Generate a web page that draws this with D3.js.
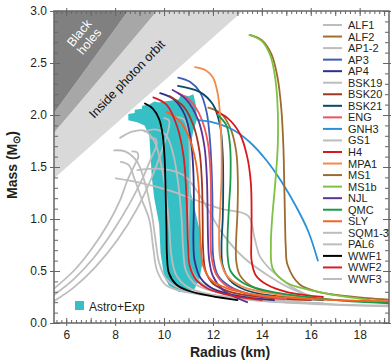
<!DOCTYPE html>
<html>
<head>
<meta charset="utf-8">
<script src="https://cdn.jsdelivr.net/npm/d3@7"></script>
<style>
  body { margin: 0; background: #fff; }
  svg text { font-family: "Liberation Sans", Arial, sans-serif; }
</style>
</head>
<body>
<svg id="chart" width="391" height="361"></svg>
<script>
// mass-radius curves, each point is [radius km, mass Msun], from max mass down
const ALF1 = [[10.5,1.98],[10.8,1.96],[10.98,1.85],[11.05,1.6],[11.05,1.3],[11.0,1.0],[10.98,0.72],[11.1,0.52],[11.6,0.37],[12.8,0.28],[14.5,0.22],[16.5,0.19]];
const ALF2 = [[11.81,2.07],[12.3,2.02],[12.7,1.88],[12.95,1.65],[13.02,1.35],[13.0,1.05],[12.95,0.8],[12.95,0.6],[13.1,0.46],[13.6,0.35],[14.6,0.28],[16.2,0.24]];
const AP1 = [[7.96,1.66],[8.4,1.65],[8.9,1.55],[9.25,1.32],[9.5,1.05],[9.65,0.8],[9.8,0.58],[10.1,0.42],[10.8,0.32],[12.3,0.26],[14.5,0.21]];
const AP2 = [[8.23,1.55],[8.55,1.52],[8.8,1.38],[9.1,1.18],[9.4,0.99],[9.56,0.72],[9.72,0.5],[10.1,0.36],[11.6,0.27],[13.5,0.23]];
const AP3 = [[10.58,2.36],[11.06,2.32],[11.47,2.22],[11.74,2.03],[11.88,1.75],[11.95,1.45],[11.98,1.15],[11.98,0.85],[12.02,0.62],[12.2,0.46],[12.7,0.35],[13.6,0.27],[15,0.23]];
const AP4 = [[9.84,2.21],[10.4,2.15],[10.85,2.0],[11.1,1.75],[11.2,1.45],[11.22,1.1],[11.2,0.8],[11.25,0.6],[11.5,0.43],[12.0,0.33],[13.0,0.26],[14.5,0.22]];
const BSK19 = [[8.2,1.78],[8.7,1.84],[9.2,1.85],[9.6,1.75],[9.9,1.5],[10.1,1.2],[10.22,0.9],[10.3,0.65],[10.5,0.46],[11.0,0.34],[12.0,0.27],[14,0.21],[16.5,0.18],[19.2,0.16]];
const BSK20 = [[10.24,2.18],[10.8,2.08],[11.2,1.9],[11.45,1.65],[11.55,1.35],[11.58,1.0],[11.6,0.7],[11.7,0.5],[12.0,0.38],[12.7,0.3],[14,0.25],[16,0.22]];
const BSK21 = [[10.57,2.28],[11.47,2.22],[12.0,2.1],[12.29,1.9],[12.4,1.62],[12.42,1.3],[12.4,1.0],[12.35,0.75],[12.4,0.55],[12.7,0.41],[13.3,0.32],[14.5,0.26],[16.5,0.22]];
const ENG = [[10.58,2.21],[11.1,2.13],[11.5,1.98],[11.78,1.75],[11.9,1.45],[11.92,1.15],[11.9,0.85],[11.95,0.62],[12.15,0.46],[12.6,0.35],[13.5,0.28],[15,0.23]];
const GNH3 = [[11.4,1.95],[12.0,1.93],[12.8,1.86],[13.5,1.74],[14.2,1.56],[14.8,1.36],[15.4,1.12],[15.9,0.88],[16.29,0.6]];
const GS1 = [[8.03,1.39],[9.0,1.35],[10.27,1.27],[11.2,1.19],[12.3,1.1],[13.44,1.03],[13.7,0.82],[13.92,0.64],[14.33,0.52],[15.14,0.36],[15.82,0.27]];
const H4 = [[12.15,2.03],[12.6,1.97],[13.1,1.82],[13.4,1.6],[13.55,1.35],[13.58,1.05],[13.57,0.8],[13.58,0.6],[13.75,0.46],[14.2,0.37],[15.0,0.3],[16.5,0.25]];
const MPA1 = [[11.27,2.46],[11.7,2.43],[12.0,2.36],[12.2,2.2],[12.29,2.0],[12.35,1.7],[12.35,1.4],[12.3,1.1],[12.25,0.85],[12.3,0.62],[12.55,0.46],[13.2,0.35],[14.5,0.28],[16.5,0.23],[19.2,0.205]];
const MS1 = [[13.5,2.77],[14.0,2.72],[14.4,2.58],[14.65,2.35],[14.8,2.05],[14.88,1.7],[14.92,1.3],[14.95,0.95],[14.98,0.72],[15.05,0.56],[15.55,0.37],[16.3,0.3],[17.2,0.265],[18.3,0.24],[19.2,0.225]];
const MS1b = [[13.5,2.77],[14.0,2.71],[14.35,2.57],[14.55,2.35],[14.65,2.05],[14.65,1.7],[14.55,1.35],[14.42,1.0],[14.37,0.75],[14.45,0.52],[15.0,0.39],[16.5,0.29],[18,0.235],[19.2,0.2]];
const NJL = [[10.35,2.24],[10.9,2.15],[11.4,1.95],[11.65,1.7],[11.75,1.4],[11.78,1.1],[11.8,0.8],[11.85,0.6],[12.0,0.45],[12.4,0.32],[13.0,0.24],[13.4,0.2]];
const QMC = [[12.2,2.0],[12.55,1.9],[12.7,1.7],[12.72,1.4],[12.65,1.1],[12.6,0.85],[12.6,0.65],[12.72,0.5],[13.2,0.39],[14,0.32],[15.5,0.26],[17.5,0.21],[19.2,0.19]];
const SLY = [[10.11,2.03],[10.6,1.95],[11.0,1.8],[11.3,1.55],[11.42,1.3],[11.45,1.0],[11.5,0.75],[11.6,0.55],[11.9,0.42],[12.5,0.34],[13.5,0.28],[15,0.245],[17,0.22],[19.2,0.21]];
const SQM1 = [[5.5,0.33],[6.3,0.5],[7.0,0.7],[7.7,0.95],[8.2,1.18],[8.5,1.37],[8.8,1.52],[8.95,1.6],[8.9,1.64],[8.7,1.65]];
const SQM2 = [[5.5,0.27],[6.3,0.42],[7.1,0.62],[7.9,0.88],[8.6,1.15],[9.1,1.38],[9.5,1.6],[9.7,1.72],[9.65,1.77],[9.45,1.78]];
const SQM3 = [[5.5,0.21],[6.3,0.34],[7.2,0.54],[8.1,0.8],[8.9,1.1],[9.5,1.4],[9.9,1.65],[10.2,1.88],[10.2,1.95],[10.0,1.97]];
const PAL6 = [[8.91,1.47],[10.0,1.48],[10.8,1.42],[11.4,1.25],[11.9,1.05],[12.42,0.85],[13.3,0.62],[14.3,0.45],[15.2,0.33],[16.0,0.26]];
const WWF1 = [[9.22,2.11],[9.55,2.06],[9.8,1.96],[9.95,1.8],[10.03,1.55],[10.07,1.2],[10.1,0.9],[10.12,0.65],[10.2,0.48],[10.5,0.37],[11.0,0.31],[11.9,0.26],[13.0,0.22]];
const WWF2 = [[9.56,2.17],[10.1,2.1],[10.55,1.88],[10.8,1.6],[10.9,1.3],[10.95,1.0],[10.98,0.75],[11.05,0.55],[11.3,0.42],[11.8,0.33],[12.8,0.26],[14.0,0.22]];
const WWF3 = [[9.2,1.84],[9.7,1.86],[10.1,1.8],[10.4,1.6],[10.6,1.3],[10.72,1.0],[10.78,0.72],[10.9,0.5],[11.3,0.37],[12.5,0.28],[14.5,0.22],[17,0.18],[19.2,0.17]];

const eosNames = ["ALF1","ALF2","AP1-2","AP3","AP4","BSK19","BSK20","BSK21","ENG","GNH3","GS1","H4","MPA1","MS1","MS1b","NJL","QMC","SLY","SQM1-3","PAL6","WWF1","WWF2","WWF3"];
const eosCurves = [[ALF1],[ALF2],[AP1,AP2],[AP3],[AP4],[BSK19],[BSK20],[BSK21],[ENG],[GNH3],[GS1],[H4],[MPA1],[MS1],[MS1b],[NJL],[QMC],[SLY],[SQM1,SQM2,SQM3],[PAL6],[WWF1],[WWF2],[WWF3]];

// combined astro + experiment constraint band
const astroExp = [[8.54,2.01],[8.8,2.02],[8.8,2.05],[9.1,2.06],[9.1,2.09],[9.4,2.1],[9.6,2.13],[9.8,2.12],[10.0,2.13],[10.3,2.14],[10.6,2.15],[10.7,2.2],[11.0,2.18],[11.2,2.2],[11.3,2.1],[11.35,1.96],[11.2,1.85],[11.08,1.7],[11.02,1.5],[11.1,1.25],[11.3,1.05],[11.45,0.9],[11.55,0.7],[11.55,0.55],[11.45,0.42],[11.25,0.33],[10.95,0.29],[10.6,0.3],[10.2,0.36],[10.0,0.45],[9.86,0.67],[9.8,0.95],[9.6,1.2],[9.5,1.4],[9.45,1.6],[9.4,1.8],[9.2,1.9],[8.9,1.93],[8.54,1.95]];

// excluded regions (radius, mass)
const blackHoleRegion = [[5.5,3.0],[8.53,3.0],[5.5,2.02]];
const innerBand = [[8.53,3.0],[9.71,3.0],[5.5,1.83],[5.5,2.02]];
const photonOrbitRegion = [[9.71,3.0],[13.22,3.0],[5.5,1.39],[5.5,1.83]];

const xTicks = [6,8,10,12,14,16,18];
const yTicks = [0,0.5,1.0,1.5,2.0,2.5,3.0];

const grayEos = ["ALF1","AP1-2","BSK19","GS1","SQM1-3","PAL6","WWF3"];
const eosColors = {
  "ALF1":"#bdbdbd","ALF2":"#a0702f","AP1-2":"#bdbdbd","AP3":"#3d5cb8","AP4":"#2e2f8f",
  "BSK19":"#bdbdbd","BSK20":"#a2361f","BSK21":"#0d4b6b","ENG":"#f0545a","GNH3":"#2a90d8",
  "GS1":"#bdbdbd","H4":"#d7191c","MPA1":"#f58a4b","MS1":"#9c6a2e","MS1b":"#7dc242",
  "NJL":"#5a3496","QMC":"#1a9a48","SLY":"#f26522","SQM1-3":"#bdbdbd","PAL6":"#bdbdbd",
  "WWF1":"#000000","WWF2":"#d62027","WWF3":"#bdbdbd"
};
const teal = "#36c0c6";
const axisColor = "#666";

const svg = d3.select("#chart");
const x = d3.scaleLinear().domain([5.5, 19.2]).range([54, 389]);
const y = d3.scaleLinear().domain([0, 3]).range([323, 11]);

svg.append("defs").append("clipPath").attr("id", "plotClip")
  .append("rect").attr("x", 54).attr("y", 11).attr("width", 335).attr("height", 312);

const plot = svg.append("g").attr("clip-path", "url(#plotClip)");
const poly = d3.line().x(d => x(d[0])).y(d => y(d[1]));

plot.append("path").attr("d", poly(photonOrbitRegion) + "Z").attr("fill", "#d9d9d9");
plot.append("path").attr("d", poly(innerBand) + "Z").attr("fill", "#a7a7a7");
plot.append("path").attr("d", poly(blackHoleRegion) + "Z").attr("fill", "#808080");

plot.append("path").attr("d", poly(astroExp) + "Z").attr("fill", teal);

const curve = d3.line().x(d => x(d[0])).y(d => y(d[1])).curve(d3.curveCatmullRom.alpha(0.5));

// gray ones underneath the coloured ones
const drawOrder = eosNames.filter(n => grayEos.includes(n)).concat(eosNames.filter(n => !grayEos.includes(n)));
drawOrder.forEach(name => {
  const i = eosNames.indexOf(name);
  eosCurves[i].forEach(c => {
    plot.append("path")
      .attr("d", curve(c))
      .attr("fill", "none")
      .attr("stroke", eosColors[name])
      .attr("stroke-width", 1.8)
      .attr("stroke-linecap", "round");
  });
});

// region labels
svg.append("text")
  .attr("transform", "translate(130,82) rotate(-46)")
  .attr("text-anchor", "middle")
  .attr("font-size", 12.5)
  .attr("fill", "#111")
  .text("Inside photon orbit");

const bh = svg.append("text")
  .attr("transform", "translate(84,37) rotate(-50)")
  .attr("text-anchor", "middle")
  .attr("font-size", 12.5)
  .attr("fill", "#fff");
bh.append("tspan").attr("x", 0).attr("y", -2).text("Black");
bh.append("tspan").attr("x", 0).attr("y", 11).text("holes");

// axes
function styleAxis(g) {
  g.selectAll(".tick line").attr("stroke", axisColor).attr("stroke-width", 1);
  g.selectAll("text").attr("font-size", 12).attr("fill", "#231f20")
    .attr("font-family", "'Liberation Sans', Arial, sans-serif");
  g.select(".domain").remove();
}

const minorY = d3.range(0, 3.001, 0.1).map(v => +v.toFixed(1));
const minorX = d3.range(5.6, 19.2, 0.2).map(v => +v.toFixed(1));
const midX = d3.range(6, 20, 1);

// left
svg.append("g").attr("transform", "translate(54,0)")
  .call(d3.axisLeft(y).tickValues(yTicks).tickFormat(d3.format(".1f")).tickSize(4).tickPadding(3))
  .call(styleAxis);
svg.append("g").attr("transform", "translate(54,0)")
  .call(d3.axisLeft(y).tickValues(minorY).tickFormat("").tickSize(-4))
  .call(styleAxis);
svg.append("g").attr("transform", "translate(54,0)")
  .call(d3.axisLeft(y).tickValues(yTicks).tickFormat("").tickSize(-6))
  .call(styleAxis);
// right
svg.append("g").attr("transform", "translate(389,0)")
  .call(d3.axisRight(y).tickValues(minorY).tickFormat("").tickSize(-4))
  .call(styleAxis);
svg.append("g").attr("transform", "translate(389,0)")
  .call(d3.axisRight(y).tickValues(yTicks).tickFormat("").tickSize(-6))
  .call(styleAxis);
svg.append("g").attr("transform", "translate(389,0)")
  .call(d3.axisRight(y).tickValues(yTicks).tickFormat("").tickSize(3))
  .call(styleAxis);
// bottom
svg.append("g").attr("transform", "translate(0,323)")
  .call(d3.axisBottom(x).tickValues(xTicks).tickFormat(d3.format("d")).tickSize(3).tickPadding(4))
  .call(styleAxis);
svg.append("g").attr("transform", "translate(0,323)")
  .call(d3.axisBottom(x).tickValues(minorX).tickFormat("").tickSize(-3))
  .call(styleAxis);
svg.append("g").attr("transform", "translate(0,323)")
  .call(d3.axisBottom(x).tickValues(midX).tickFormat("").tickSize(-5))
  .call(styleAxis);
// top
svg.append("g").attr("transform", "translate(0,11)")
  .call(d3.axisTop(x).tickValues(minorX).tickFormat("").tickSize(-3))
  .call(styleAxis);
svg.append("g").attr("transform", "translate(0,11)")
  .call(d3.axisTop(x).tickValues(midX).tickFormat("").tickSize(-5))
  .call(styleAxis);
svg.append("g").attr("transform", "translate(0,11)")
  .call(d3.axisTop(x).tickValues(xTicks).tickFormat("").tickSize(3))
  .call(styleAxis);

svg.append("rect").attr("x", 54).attr("y", 11).attr("width", 335).attr("height", 312)
  .attr("fill", "none").attr("stroke", axisColor).attr("stroke-width", 1.5);

// axis titles
svg.append("text")
  .attr("x", 230).attr("y", 357)
  .attr("text-anchor", "middle")
  .attr("font-size", 14).attr("font-weight", "bold").attr("fill", "#231f20")
  .text("Radius (km)");

const yt = svg.append("text")
  .attr("transform", "translate(17,165) rotate(-90)")
  .attr("text-anchor", "middle")
  .attr("font-size", 14).attr("font-weight", "bold").attr("fill", "#231f20");
yt.append("tspan").text("Mass (M");
yt.append("tspan").attr("font-size", 10).attr("dy", 3).text("\u2299");
yt.append("tspan").attr("dy", -3).text(")");

// legend
const leg = svg.append("g");
eosNames.forEach((name, i) => {
  const ly = 25 + i * 11.545;
  leg.append("line").attr("x1", 323).attr("x2", 342).attr("y1", ly).attr("y2", ly)
    .attr("stroke", eosColors[name]).attr("stroke-width", 2);
  leg.append("text").attr("x", 348).attr("y", ly + 4)
    .attr("font-size", 11).attr("fill", "#231f20").text(name);
});

svg.append("rect").attr("x", 75).attr("y", 301).attr("width", 9).attr("height", 9).attr("fill", teal);
svg.append("text").attr("x", 89).attr("y", 310.5)
  .attr("font-size", 12).attr("fill", "#231f20").text("Astro+Exp");
</script>
</body>
</html>
